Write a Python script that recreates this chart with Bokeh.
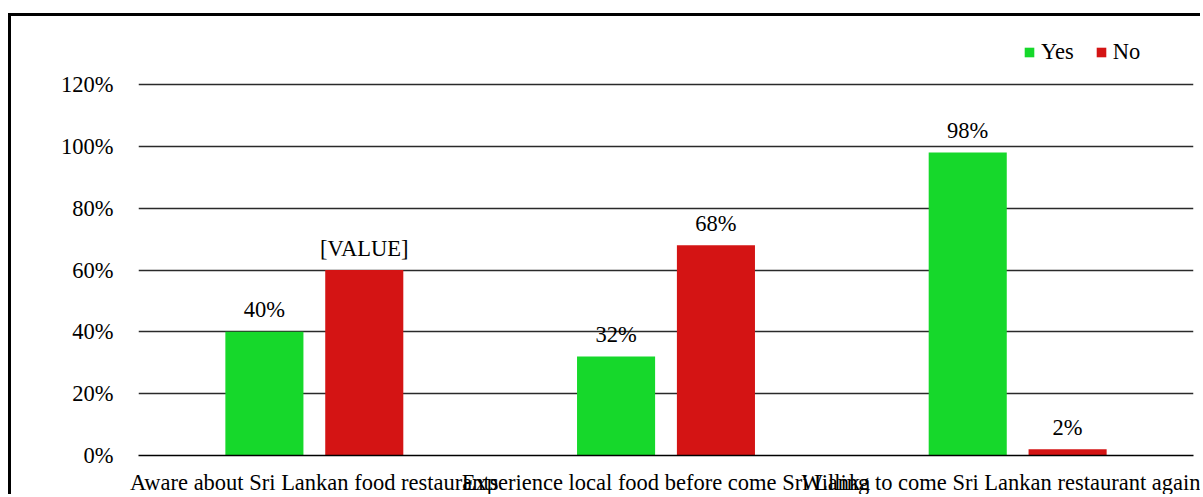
from bokeh.plotting import figure
from bokeh.models import FactorRange, Range1d, FixedTicker, PrintfTickFormatter, ColumnDataSource, Legend, LegendItem
from bokeh.transform import dodge
from bokeh.embed import file_html
from bokeh.resources import INLINE
from bokeh.core.properties import value

categories = ["Aware about Sri Lankan food restaurants",
              "Experience local food before come Sri Lanka",
              "Willing to come Sri Lankan restaurant again"]
yes_values = [40, 32, 98]
no_values = [60, 68, 2]
yes_labels = ["40%", "32%", "98%"]
no_labels = ["[VALUE]", "68%", "2%"]
y_ticks = [0, 20, 40, 60, 80, 100, 120]

FONT = "Liberation Serif"
FS = "22.5px"
GREEN = "#16d82b"
RED = "#d41414"

src = ColumnDataSource(dict(cat=categories, yes=yes_values, no=no_values,
                            yes_lab=yes_labels, no_lab=no_labels))

p = figure(x_range=FactorRange(*categories), y_range=Range1d(0, 142),
           width=1192, height=481, output_backend="svg", toolbar_location=None,
           min_border_left=127, min_border_right=10, min_border_top=0, min_border_bottom=42)
p.styles = {"margin-left": "8px", "margin-top": "13px",
            "border-left": "3px solid black", "border-top": "3px solid black"}
p.outline_line_color = None
p.background_fill_color = "white"
p.border_fill_color = "white"

r_yes = p.vbar(x=dodge("cat", -0.142, range=p.x_range), top="yes", width=0.222,
               source=src, fill_color=GREEN, line_color=None)
r_no = p.vbar(x=dodge("cat", 0.142, range=p.x_range), top="no", width=0.222,
              source=src, fill_color=RED, line_color=None)

p.text(x=dodge("cat", -0.142, range=p.x_range), y="yes", text="yes_lab", source=src,
       text_font=value(FONT), text_font_size=FS, text_align="center",
       text_baseline="alphabetic", y_offset=-22, text_color="black")
p.text(x=dodge("cat", 0.142, range=p.x_range), y="no", text="no_lab", source=src,
       text_font=value(FONT), text_font_size=FS, text_align="center",
       text_baseline="alphabetic", y_offset=-22, text_color="black")

# y axis
p.yaxis.ticker = FixedTicker(ticks=y_ticks)
p.yaxis.formatter = PrintfTickFormatter(format="%d%%")
p.yaxis.axis_line_color = None
p.yaxis.major_tick_line_color = None
p.yaxis.minor_tick_line_color = None
p.yaxis.major_tick_out = 0
p.yaxis.major_label_standoff = 25
p.yaxis.major_label_text_font = FONT
p.yaxis.major_label_text_font_size = FS
p.yaxis.major_label_text_color = "black"

p.ygrid.ticker = FixedTicker(ticks=y_ticks[1:])
p.ygrid.grid_line_color = "#2a2a2a"
p.ygrid.grid_line_width = 1.3
p.xgrid.grid_line_color = None

# x axis
p.xaxis.axis_line_color = "black"
p.xaxis.axis_line_width = 1.5
p.xaxis.major_tick_line_color = None
p.xaxis.major_tick_out = 0
p.xaxis.major_label_standoff = 14
p.xaxis.major_label_text_font = FONT
p.xaxis.major_label_text_font_size = FS
p.xaxis.major_label_text_color = "black"
p.xaxis.major_label_orientation = "horizontal"

legend = Legend(items=[LegendItem(label="Yes", renderers=[r_yes]),
                       LegendItem(label="No", renderers=[r_no])],
                location=(885, 390), orientation="horizontal",
                glyph_width=12, glyph_height=12, label_standoff=6, spacing=21,
                padding=0, margin=0, border_line_color=None, background_fill_alpha=0,
                label_text_font=FONT, label_text_font_size=FS, label_text_color="black")
p.add_layout(legend)

open("out.html", "w").write(file_html(p, INLINE))
